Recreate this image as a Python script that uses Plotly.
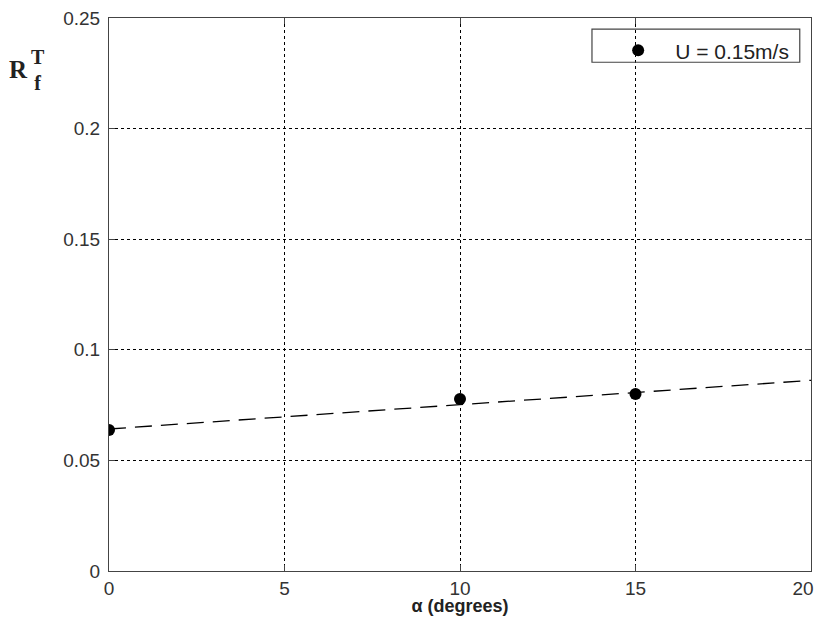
import plotly.graph_objects as go

# Data
alpha_deg = [0, 10, 15]
rf_values = [0.0637, 0.0778, 0.0800]
trend_x = [0, 20]
trend_y = [0.0642, 0.0862]

x_ticks = [0, 5, 10, 15, 20]
x_tick_text = ["0", "5", "10", "15", "20\u00a0\u00a0\u00a0"]
y_ticks = [0, 0.05, 0.1, 0.15, 0.2, 0.25]
y_tick_text = ["0", "0.05", "0.1", "0.15", "0.2", "0.25"]
legend_name = "U = 0.15m/s"

fig = go.Figure()
fig.add_trace(go.Scatter(
    x=trend_x, y=trend_y, mode="lines",
    line=dict(color="black", width=1.3, dash="17px,9px"),
    showlegend=False, hoverinfo="skip"))
fig.add_trace(go.Scatter(
    x=alpha_deg, y=rf_values, mode="markers", name=legend_name,
    marker=dict(color="black", size=12, symbol="circle")))

axis_common = dict(
    showline=True, linecolor="#444", linewidth=1, mirror="ticks",
    ticks="inside", ticklen=6, tickcolor="#444",
    showgrid=True, gridcolor="black", gridwidth=1, griddash="dot",
    zeroline=False, automargin=False, ticklabeloverflow="allow",
    tickfont=dict(family="Arial, Liberation Sans", size=19, color="#333"),
)

# the page body adds an 8px offset, so the figure is sized to fit the window
fig.update_layout(
    width=807, height=608,
    paper_bgcolor="white", plot_bgcolor="white",
    margin=dict(l=101, r=4, t=10, b=45),
    xaxis=dict(range=[0, 20], tickvals=x_ticks, ticktext=x_tick_text, **axis_common,
               title=dict(text="<b>α (degrees)</b>", standoff=5,
                          font=dict(family="Arial, Liberation Sans", size=18, color="#222"))),
    yaxis=dict(range=[0, 0.25], tickvals=y_ticks, ticktext=y_tick_text,
               ticklabelstandoff=4, **axis_common),
    showlegend=True,
    legend=dict(x=0.976, y=0.978, xanchor="right", yanchor="top",
                bgcolor="rgba(0,0,0,0)", borderwidth=0,
                itemwidth=64,
                font=dict(family="Arial, Liberation Sans", size=21, color="#222")),
    shapes=[dict(type="rect", xref="paper", yref="paper",
                 x0=0.688, x1=0.984, y0=0.920, y1=0.980,
                 line=dict(color="#444", width=1.2), fillcolor="rgba(0,0,0,0)")],
    annotations=[
        dict(text="<b>R</b>", xref="paper", yref="paper", x=-0.1296, y=0.906,
             xanchor="center", yanchor="middle", showarrow=False,
             font=dict(family="Liberation Serif, Times New Roman", size=25, color="#222")),
        dict(text="<b>T</b><br><b>f</b>", xref="paper", yref="paper", x=-0.101, y=0.906,
             xanchor="center", yanchor="middle", showarrow=False,
             font=dict(family="Liberation Serif, Times New Roman", size=20, color="#222")),
    ],
)

fig.write_html("out.html")
